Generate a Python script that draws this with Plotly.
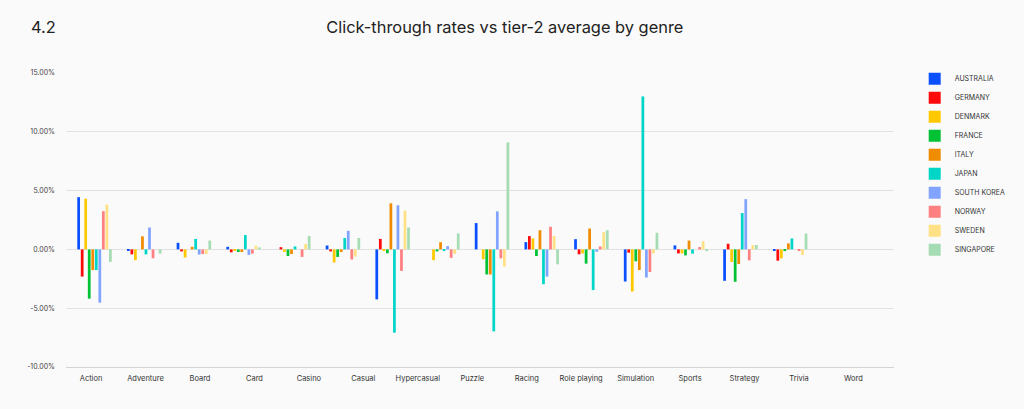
import plotly.graph_objects as go

genres = ['Action', 'Adventure', 'Board', 'Card', 'Casino', 'Casual', 'Hypercasual', 'Puzzle',
          'Racing', 'Role playing', 'Simulation', 'Sports', 'Strategy', 'Trivia', 'Word']

countries = ['AUSTRALIA', 'GERMANY', 'DENMARK', 'FRANCE', 'ITALY', 'JAPAN',
             'SOUTH KOREA', 'NORWAY', 'SWEDEN', 'SINGAPORE']
colors = ['#0a50ff', '#ff0a0a', '#ffc800', '#00c234', '#f08c00', '#00d6c8',
          '#80a4ff', '#ff8080', '#ffe084', '#a6dcb4']

# % difference vs tier-2 average, one list per country (same order as genres)
australia = [4.44, -0.11, 0.56, 0.22, 0, 0.33, -4.25, 0, 2.24, 0.62, 0.87, -2.73, 0.34, -2.67, -0.08]
germany = [-2.31, -0.42, -0.17, -0.25, 0.19, -0.17, 0.89, 0, 0, 1.13, -0.42, -0.28, -0.34, 0.48, -0.96]
denmark = [4.31, -0.92, -0.69, -0.11, -0.22, -1.11, -0.08, -0.92, -0.84, 0.93, -0.34, -3.58, -0.34, -1.07, -0.76]
france = [-4.19, 0, 0, -0.22, -0.56, -0.64, -0.33, -0.17, -2.13, -0.56, -1.21, -1.01, -0.51, -2.75, -0.14]
italy = [-1.75, 1.11, 0.22, -0.22, -0.39, -0.22, 3.92, 0.61, -2.13, 1.63, 1.77, -1.75, 0.75, -1.24, 0.51]
japan = [-1.75, -0.42, 0.89, 1.22, 0.25, 0.97, -7.08, -0.14, -6.97, -2.96, -3.46, 13.01, -0.36, 3.09, 0.93]
south_korea = [-4.53, 1.86, -0.44, -0.47, 0, 1.58, 3.75, 0.28, 3.23, -2.31, -0.2, -2.39, 0, 4.27, 0]
norway = [3.25, -0.75, -0.39, -0.36, -0.64, -0.86, -1.83, -0.72, -0.76, 1.92, 0.25, -1.92, 0.2, -0.93, -0.14]
sweden = [3.81, 0, -0.39, 0.31, 0.47, -0.61, 3.31, -0.39, -1.46, 1.13, 1.46, -0.34, 0.7, 0.37, -0.48]
singapore = [-1.06, -0.36, 0.75, 0.17, 1.14, 0.97, 1.86, 1.36, 9.1, -1.27, 1.63, 1.41, -0.14, 0.37, 1.35]

series = [australia, germany, denmark, france, italy, japan, south_korea, norway, sweden, singapore]

y_ticks = [-10, -5, 0, 5, 10, 15]

# the bar groups and the genre labels don't line up evenly in the original
TICK_STEP = 1.096
TICK_OFFSET = -0.07

FONT = 'Inter, Roboto, sans-serif'

fig = go.Figure()
for name, color, vals in zip(countries, colors, series):
    fig.add_trace(go.Bar(
        x=list(range(len(genres))),
        y=vals,
        name=name,
        marker=dict(color=color, line=dict(width=0)),
    ))

fig.update_layout(
    width=1024, height=409,
    barmode='group',
    bargap=0.29,
    bargroupgap=0.22,
    paper_bgcolor='#fafafa',
    plot_bgcolor='#fafafa',
    font=dict(family=FONT, color='#333333', size=7),
    margin=dict(l=66, r=130, t=73, b=42, autoexpand=False),
    title=dict(
        text='Click-through rates vs tier-2 average by genre',
        x=0.493, xanchor='center', y=0.934, yanchor='middle',
        font=dict(size=16.4, color='#222222', family=FONT),
    ),
    legend=dict(
        x=1.025, xanchor='left', y=1.03, yanchor='top',
        font=dict(size=7, color='#333333'),
        itemwidth=30, tracegroupgap=0,
        bgcolor='rgba(0,0,0,0)',
    ),
    showlegend=True,
    annotations=[dict(
        text='4.2', xref='paper', yref='paper', x=-0.045, y=1.157,
        xanchor='left', yanchor='middle', showarrow=False,
        font=dict(size=16.4, color='#222222', family=FONT),
    )],
)

fig.update_xaxes(
    range=[-0.574, 16.09],
    tickvals=[TICK_OFFSET + TICK_STEP * i for i in range(len(genres))],
    ticktext=genres,
    showgrid=False, zeroline=False,
    showline=True, linecolor='#d4d4d4', linewidth=1,
    ticks='', ticklabelstandoff=4,
    tickfont=dict(size=7.5, color='#333333'),
)

fig.update_yaxes(
    range=[-10, 15],
    tickvals=y_ticks,
    ticktext=[f'{v:.2f}%' for v in y_ticks],
    showgrid=True, gridcolor='#e2e2e2', gridwidth=1,
    zeroline=True, zerolinecolor='#e2e2e2', zerolinewidth=1,
    ticks='', ticklabelstandoff=10,
    tickfont=dict(size=7, color='#444444'),
)

# drop the default 8px page margin so the figure sits at the window's corner
fig.write_html("out.html", config={'displayModeBar': False},
               post_script="document.body.style.margin='0';")
